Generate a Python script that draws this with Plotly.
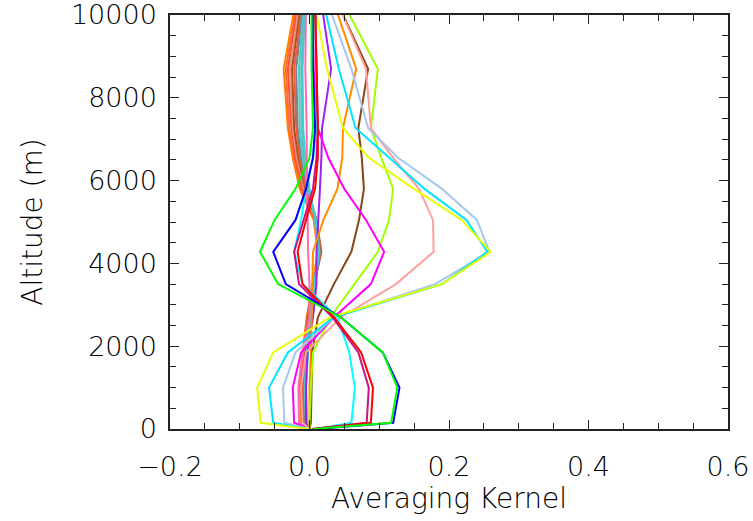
import plotly.graph_objects as go

# altitude levels (m) of the retrieval grid
altitude = [0, 150, 1000, 1850, 2700, 3500, 4280, 5050, 5800, 6550, 7270, 8700, 10300]

# averaging kernel rows (one per retrieval level)
k_green    = [0.005, 0.117, 0.126, 0.105, 0.045, -0.045, -0.071, -0.050, -0.020, 0.000, 0.005, 0.003, 0.003]
k_blue     = [0.010, 0.120, 0.129, 0.105, 0.045, -0.034, -0.052, -0.020, -0.005, 0.005, 0.008, 0.005, 0.004]
k_red      = [0.005, 0.088, 0.091, 0.074, 0.035, -0.010, -0.017, -0.005, 0.008, 0.012, 0.012, 0.010, 0.008]
k_violet   = [0.003, 0.082, 0.085, 0.070, 0.033, -0.015, -0.022, -0.008, 0.005, 0.010, 0.012, 0.010, 0.008]
k_cyan1    = [0.010, 0.060, 0.065, 0.057, 0.040, -0.010, -0.022, -0.012, -0.005, 0.005, 0.010, 0.010, 0.008]
k_yellow   = [0.000, -0.070, -0.075, -0.052, 0.030, 0.190, 0.260, 0.218, 0.150, 0.085, 0.048, 0.025, 0.007]
k_cyan2    = [0.000, -0.052, -0.058, -0.031, 0.035, 0.190, 0.255, 0.225, 0.165, 0.115, 0.066, 0.042, 0.020]
k_ltblue   = [0.000, -0.036, -0.038, -0.020, 0.035, 0.180, 0.258, 0.240, 0.190, 0.127, 0.084, 0.060, 0.026]
k_salmon   = [0.000, -0.010, -0.012, -0.005, 0.045, 0.124, 0.178, 0.177, 0.157, 0.120, 0.088, 0.081, 0.040]
k_magenta  = [0.000, -0.022, -0.024, -0.012, 0.035, 0.088, 0.107, 0.081, 0.050, 0.027, 0.012, 0.006, 0.005]
k_lime     = [0.000, 0.000, 0.002, 0.005, 0.030, 0.064, 0.098, 0.114, 0.120, 0.103, 0.088, 0.098, 0.048]
k_orange   = [0.000, 0.000, 0.000, 0.002, 0.003, 0.004, 0.005, 0.020, 0.040, 0.047, 0.048, 0.067, 0.035]
k_brown    = [0.000, 0.002, 0.003, 0.004, 0.012, 0.035, 0.060, 0.071, 0.078, 0.075, 0.070, 0.084, 0.040]
k_purple   = [0.000, -0.005, -0.005, -0.003, 0.005, 0.010, 0.010, 0.012, 0.015, 0.017, 0.018, 0.031, 0.017]
k_pink     = [0.000, -0.015, -0.016, -0.010, 0.000, 0.000, -0.002, -0.003, -0.003, -0.004, -0.004, -0.006, -0.005]
k_upper1   = [0.000, -0.012, -0.014, -0.010, -0.004, 0.004, 0.012, 0.006, -0.014, -0.024, -0.031, -0.037, -0.020]
k_upper2   = [0.000, -0.011, -0.013, -0.009, -0.003, 0.005, 0.014, 0.007, -0.012, -0.022, -0.029, -0.034, -0.018]
k_upper3   = [0.000, -0.010, -0.012, -0.008, -0.003, 0.006, 0.015, 0.008, -0.010, -0.020, -0.026, -0.031, -0.016]
k_upper4   = [0.000, -0.009, -0.011, -0.007, -0.002, 0.006, 0.016, 0.009, -0.008, -0.018, -0.024, -0.028, -0.014]
k_upper5   = [0.000, -0.008, -0.010, -0.006, -0.002, 0.007, 0.017, 0.010, -0.006, -0.016, -0.022, -0.025, -0.012]
k_upper6   = [0.000, -0.007, -0.009, -0.005, -0.001, 0.007, 0.016, 0.010, -0.005, -0.014, -0.019, -0.022, -0.010]
k_upper7   = [0.000, -0.006, -0.008, -0.004, 0.000, 0.008, 0.015, 0.010, -0.003, -0.012, -0.017, -0.019, -0.009]
k_upper8   = [0.000, -0.005, -0.007, -0.004, 0.000, 0.008, 0.014, 0.009, -0.002, -0.010, -0.014, -0.015, -0.008]
k_upper9   = [0.000, -0.004, -0.006, -0.003, 0.001, 0.008, 0.013, 0.009, -0.001, -0.008, -0.011, -0.012, -0.007]
k_upper10  = [0.000, -0.003, -0.005, -0.002, 0.001, 0.007, 0.012, 0.008, 0.000, -0.006, -0.009, -0.010, -0.006]

kernels = [
    (k_upper1, "#ff7f00"), (k_upper2, "#ff6a3d"), (k_upper3, "#ff4f2a"),
    (k_upper4, "#e9967a"), (k_upper5, "#a0522d"), (k_upper6, "#ff5533"),
    (k_upper7, "#808080"), (k_upper8, "#4fc9c9"), (k_upper9, "#5fbfbf"),
    (k_upper10, "#40d0d0"),
    (k_pink, "#ff69b4"), (k_purple, "#a020f0"), (k_orange, "#ff8c00"),
    (k_brown, "#8b4513"), (k_lime, "#a0ff00"), (k_magenta, "#ff00ff"),
    (k_salmon, "#ffa0a0"), (k_ltblue, "#a6c8ec"), (k_cyan2, "#00e5ff"),
    (k_yellow, "#e6ff00"), (k_cyan1, "#00ffff"), (k_violet, "#c71585"),
    (k_red, "#ff0000"), (k_blue, "#0000ff"), (k_green, "#00ff00"),
]

x_ticks = [-0.2, 0.0, 0.2, 0.4, 0.6]
x_tick_text = ["\u22120.2", "0.0", "0.2", "0.4", "0.6"]
y_ticks = [0, 2000, 4000, 6000, 8000, 10000]
y_tick_text = ["0", "2000", "4000", "6000", "8000", "10000"]

fig = go.Figure()
for vals, col in kernels:
    fig.add_trace(go.Scatter(x=vals, y=altitude, mode="lines",
                             line=dict(color=col, width=2), showlegend=False,
                             hoverinfo="skip"))

font = dict(family="DejaVu Sans", size=27, color="#000000", weight=200)
title_font = dict(family="DejaVu Sans", size=28, color="#000000", weight=200)
axis_common = dict(showgrid=False, zeroline=False, showline=True, linecolor="#222222",
                   linewidth=1.5, mirror="allticks", ticks="inside", ticklen=9,
                   tickwidth=1.2, tickcolor="#222222", tickfont=font, automargin=False,
                   ticklabeloverflow="allow")

fig.update_layout(
    width=753, height=521,
    margin=dict(l=170, r=25, t=15, b=92),
    paper_bgcolor="#ffffff", plot_bgcolor="#ffffff",
    font=font,
    xaxis=dict(range=[-0.2, 0.6], tickvals=x_ticks, ticktext=x_tick_text,
               minor=dict(dtick=0.05, ticks="inside", ticklen=6, tickcolor="#222222"),
               ticklabelstandoff=13,
               title=dict(text="Averaging Kernel", font=title_font, standoff=6),
               **axis_common),
    yaxis=dict(range=[0, 10000], tickvals=y_ticks, ticktext=y_tick_text,
               minor=dict(dtick=500, ticks="inside", ticklen=6, tickcolor="#222222"),
               ticklabelstandoff=6,
               title=dict(text="Altitude (m)", font=title_font, standoff=20),
               **axis_common),
)

# remove the default page margin so the 753x521 figure fills the window exactly
fig.write_html("out.html", config={"displayModeBar": False},
               post_script="document.body.style.margin='0';document.body.style.overflow='hidden';")
